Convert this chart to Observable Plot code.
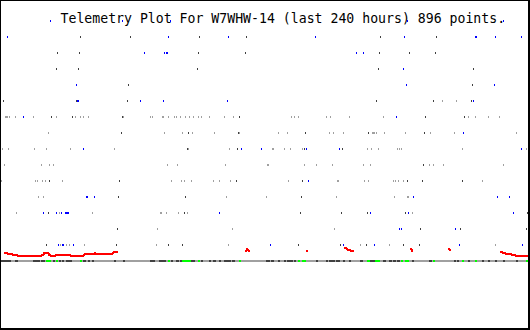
<!DOCTYPE html>
<html><head><meta charset="utf-8">
<script src="https://cdn.jsdelivr.net/npm/d3@7"></script>
<script src="https://cdn.jsdelivr.net/npm/@observablehq/plot@0.6"></script>
<style>
html,body{margin:0;padding:0;background:#fff;}
#wrap{position:relative;width:530px;height:330px;}
#border{position:absolute;left:0;top:0;width:530px;height:330px;box-sizing:border-box;border-style:solid;border-color:#000;border-width:1px 2px 2px 1px;pointer-events:none;}
</style></head><body>
<div id="wrap"><div id="chart"></div><div id="border"></div></div>
<script>
const title = "Telemetry Plot For W7WHW-14 (last 240 hours) 896 points.";

// Row levels: index k -> level 14-k (top row = 14, bottom row = 0)
const blueRows = [
  [50, 122, 170, 407, 503],
  [7, 168, 228, 315, 404, 475, 476, 495, 521],
  [144, 164, 166, 167, 356, 363],
  [403],
  [76, 406, 494],
  [77, 78, 140, 163, 227, 473],
  [23, 396],
  [463],
  [83, 241, 261, 306, 339, 521],
  [],
  [308],
  [86, 87, 94, 413, 497, 509],
  [43, 56, 61, 65, 66, 67, 68, 219, 370, 408, 513],
  [399, 401, 455],
  [58, 62, 63, 73, 270, 343, 374, 459, 522]
];
const darkRows = [
  [],
  [80, 130, 199, 246, 380, 436],
  [57, 79, 198, 245, 379, 409, 435],
  [56, 78, 197, 378, 473],
  [128, 472],
  [3, 76, 127, 376, 433, 471],
  [51, 72, 122, 239, 425, 464],
  [121, 188, 238, 305, 368, 424],
  [187, 237, 304, 342],
  [423],
  [49, 119, 236, 302, 407, 422, 462],
  [118, 185, 301, 528],
  [48, 184, 300, 341, 367, 405, 527],
  [117, 420, 460, 526],
  [46, 116, 168, 182, 298, 340, 366, 403, 419]
];
const lightRows = [
  [],
  [],
  [],
  [],
  [],
  [442, 456],
  [5, 6, 7, 9, 15, 33, 56, 75, 80, 83, 88, 123, 150, 152, 162, 163, 168, 174, 176, 180, 185, 189, 193, 198, 201, 209, 224, 233, 291, 294, 298, 326, 330, 349, 383, 468, 475, 488, 499],
  [48, 164, 182, 192, 214, 239, 278, 287, 329, 333, 343, 372, 373, 374, 376, 384, 405, 430, 454, 516],
  [2, 8, 34, 46, 70, 114, 188, 229, 272, 273, 284, 290, 302, 367, 371, 378, 397, 399, 401, 462, 526],
  [4, 41, 49, 53, 167, 177, 225, 267, 268, 304, 316, 332, 363, 370, 429, 433, 443, 503],
  [1, 35, 37, 42, 45, 62, 171, 181, 184, 191, 213, 219, 230, 288, 337, 338, 364, 368, 393, 395, 398, 403, 482],
  [38, 43, 226, 266, 336, 394, 407, 408],
  [16, 59, 92, 160, 161, 166, 178, 187, 412],
  [157, 232, 334],
  [60, 66, 69, 84, 156, 228, 360, 389, 495]
];

// Red trace segments: [x, level]
const redSegments = [
  [[4,-0.47],[7,-0.56],[12,-0.63],[13,-0.61],[17,-0.67],[41,-0.61],[43,-0.53],[45,-0.47],[46,-0.53],[48,-0.61],[50,-0.67],[55,-0.61],[70,-0.67],[83,-0.61],[84,-0.54],[94,-0.48],[95,-0.54],[112,-0.48],[113,-0.42],[117,-0.42]],
  [[245,-0.38],[246,-0.25],[247,-0.31],[248,-0.38],[249,-0.38]],
  [[306,-0.38],[307,-0.38]],
  [[344,-0.21],[346,-0.27],[347,-0.33],[350,-0.38],[353,-0.38]],
  [[410,-0.28],[411,-0.38],[412,-0.38]],
  [[448,-0.25],[449,-0.31],[450,-0.31]],
  [[500,-0.42],[502,-0.48],[505,-0.54],[511,-0.61],[515,-0.67],[529,-0.67]]
];

// Status band segments [from, to]
const bandBase = [[1, 528]];
const bandDark = [[1,10],[15,17],[33,36],[37,39],[41,44],[47,48],[53,54],[59,60],[62,63],[66,68],[69,71],[83,85],[88,89],[92,93],[114,115],[123,124],[150,152],[153,154],[159,161],[162,165],[171,172],[176,178],[180,182],[191,194],[201,202],[209,210],[213,215],[219,220],[224,227],[228,230],[232,234],[266,269],[271,273],[278,279],[284,285],[287,289],[290,292],[294,295],[316,317],[326,327],[329,331],[332,334],[336,339],[343,344],[349,350],[360,362],[370,374],[383,385],[389,391],[393,395],[397,399],[412,413],[429,431],[454,455],[457,458],[468,469],[482,483],[488,489],[495,496],[503,504],[516,517]];
const bandGreen = [[46,47],[48,50],[56,57],[80,81],[168,169],[182,190],[198,199],[239,240],[298,299],[302,305],[367,369],[375,379],[401,402],[405,408],[433,434],[462,463],[475,476],[526,527]];

const TOP_LEVEL = 14;
const TICK_HALF = 1 / 16;
const BAND_LEVEL = -1;

function flatten(rows) {
  return rows.flatMap((xs, k) => xs.map(x => ({x, level: TOP_LEVEL - k})));
}
const blueTicks = flatten(blueRows);
const darkTicks = flatten(darkRows);
const lightTicks = flatten(lightRows);
const redPts = redSegments.flatMap((seg, i) => seg.map(([x, L]) => ({x, L, seg: i})));

function tickMark(data, color) {
  return Plot.ruleX(data, {x: "x", y1: d => d.level - TICK_HALF, y2: d => d.level + TICK_HALF,
    stroke: color, strokeWidth: 1, shapeRendering: "crispEdges"});
}
function bandMark(data, color) {
  return Plot.rect(data, {x1: d => d[0], x2: d => d[1] + 1,
    y1: () => BAND_LEVEL - TICK_HALF, y2: () => BAND_LEVEL + TICK_HALF,
    fill: color, shapeRendering: "crispEdges"});
}

const chart = Plot.plot({
  width: 530, height: 330,
  marginLeft: 0, marginRight: 0, marginTop: 0, marginBottom: 0,
  x: {domain: [0, 530], axis: null},
  y: {domain: [-5.34375, 15.28125], axis: null},
  style: {background: "#fff", overflow: "visible"},
  marks: [
    tickMark(lightTicks, "#a0a0a0"),
    tickMark(darkTicks, "#404040"),
    tickMark(blueTicks, "#0000ff"),
    bandMark(bandBase, "#a0a0a0"),
    bandMark(bandDark, "#404040"),
    bandMark(bandGreen, "#00ff00"),
    Plot.line(redPts, {x: "x", y: "L", z: "seg", curve: "step-after", stroke: "#ff0000", strokeWidth: 2, shapeRendering: "crispEdges"}),
    Plot.text([title], {text: d => d, frameAnchor: "top-left", dx: 60, dy: 22, lineAnchor: "bottom", textAnchor: "start",
      fontFamily: "DejaVu Sans Mono", fontSize: 13.2, fill: "#000"})
  ]
});
document.getElementById("chart").appendChild(chart);
</script>
</body></html>
